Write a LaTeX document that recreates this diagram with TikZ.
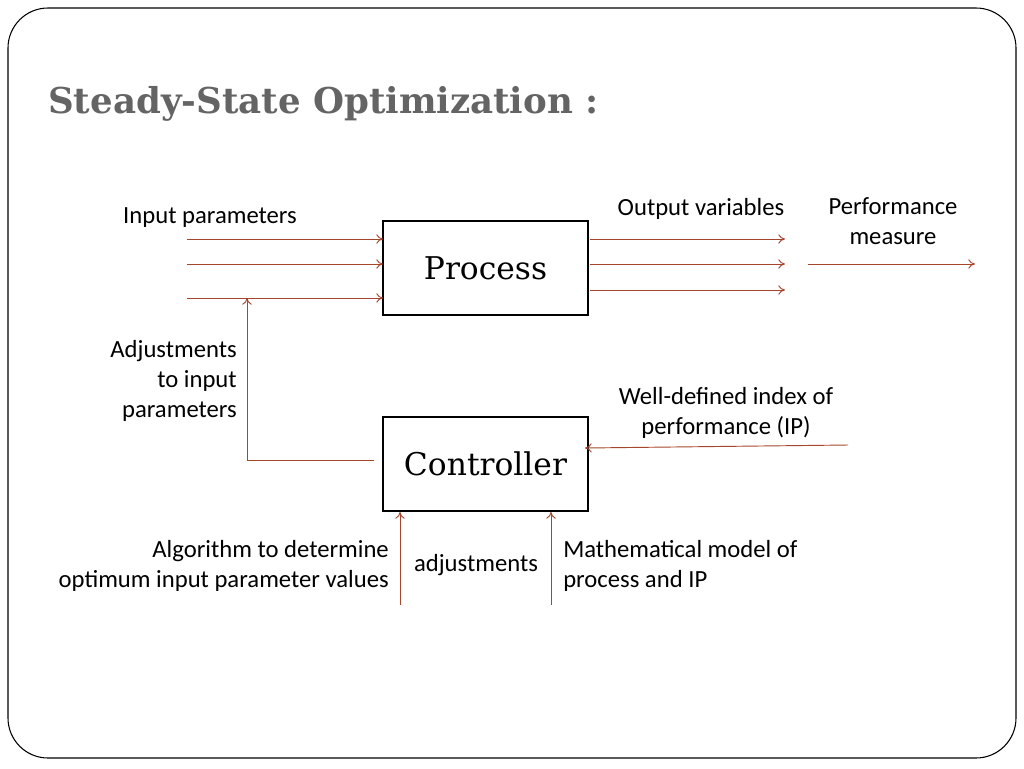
\documentclass[tikz,border=0pt]{standalone}
\usepackage{fontspec}
\setmainfont{Carlito}
\newfontfamily\serifx{DejaVu Serif}
\usetikzlibrary{arrows.meta}
\definecolor{arr}{RGB}{165,70,45}
\definecolor{ttl}{RGB}{100,100,100}
\begin{document}
\begin{tikzpicture}[x=0.75pt,y=-0.75pt,
  box/.style={draw,line width=1.5pt,minimum width=154pt,minimum height=70pt,inner sep=0pt,font=\serifx\fontsize{23.5}{27}\selectfont},
  lbl/.style={font=\fontsize{18.5}{22.5}\selectfont,inner sep=0pt},
  ar/.style={draw=arr,line width=0.7pt,-{To[length=5pt,width=7pt]}}]
\useasboundingbox (0,0) rectangle (1024,768);
\draw[line width=0.8pt,rounded corners=30pt] (8,8) rectangle (1016,758);
\node[anchor=west,text=ttl,font=\serifx\bfseries\fontsize{26.7}{30}\selectfont,inner sep=0pt] (title) at (48,104) {Steady-State Optimization :};
\node[box] (proc) at (485.5,268) {Process};
\node[box] (ctrl) at (485.5,464) {Controller};
\coordinate (i1) at (187,239); \coordinate (i2) at (187,264); \coordinate (i3) at (187,298);
\coordinate (p1) at (383,239); \coordinate (p2) at (383,264); \coordinate (p3) at (383,298);
\draw[ar] (i1) -- (p1); \draw[ar] (i2) -- (p2); \draw[ar] (i3) -- (p3);
\coordinate (q1) at (590,239); \coordinate (q2) at (590,264); \coordinate (q3) at (590,290);
\coordinate (o1) at (785,239); \coordinate (o2) at (785,264); \coordinate (o3) at (785,290);
\draw[ar] (q1) -- (o1); \draw[ar] (q2) -- (o2); \draw[ar] (q3) -- (o3);
\coordinate (pm1) at (808,264); \coordinate (pm2) at (975,264);
\draw[ar] (pm1) -- (pm2);
\coordinate (fb1) at (374,460); \coordinate (fb2) at (247,460); \coordinate (fb3) at (247,298);
\draw[ar] (fb1) -- (fb2) -- (fb3);
\coordinate (ip1) at (848,445); \coordinate (ip2) at (585,448);
\draw[ar] (ip1) -- (ip2);
\coordinate (b1) at (400,605); \coordinate (b1e) at (400,512);
\coordinate (b2) at (551,605); \coordinate (b2e) at (551,512);
\draw[ar] (b1) -- (b1e); \draw[ar] (b2) -- (b2e);
\node[lbl] (l1) at (210,218) {Input parameters};
\node[lbl] (l2) at (701,209) {Output variables};
\node[lbl,align=center] (l3) at (893,221) {Performance\\measure};
\node[lbl,align=right,anchor=east] (l4) at (237,381) {Adjustments\\to input\\parameters};
\node[lbl,align=center] (l5) at (726,413) {Well-defined index of\\performance (IP)};
\node[lbl,align=right,anchor=east] (l6) at (389,566) {Algorithm to determine\\optimum input parameter values};
\node[lbl] (l7) at (476,565) {adjustments};
\node[lbl,align=left,anchor=west] (l8) at (563,566) {Mathematical model of\\process and IP};
\end{tikzpicture}
\end{document}
